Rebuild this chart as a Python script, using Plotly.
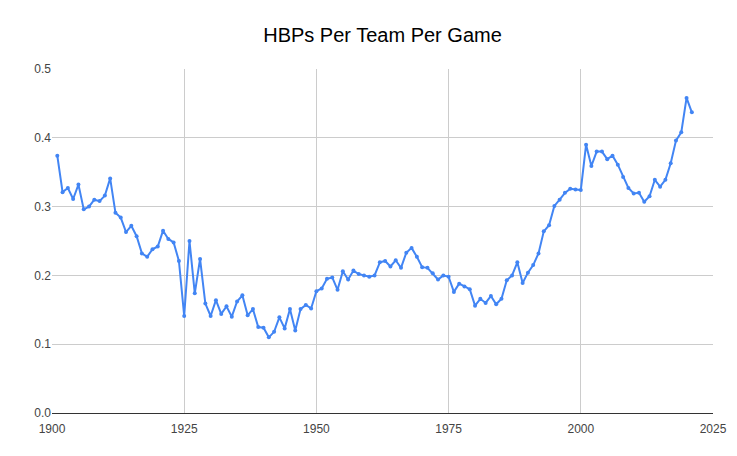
import plotly.graph_objects as go

years = list(range(1901, 2022))
hbp = [
    0.374, 0.321, 0.327, 0.311, 0.332, 0.296, 0.300, 0.310, 0.308, 0.316,  # 1901-1910
    0.341, 0.291, 0.284, 0.263, 0.272, 0.257, 0.232, 0.227, 0.238, 0.242,  # 1911-1920
    0.265, 0.253, 0.248, 0.221, 0.141, 0.250, 0.174, 0.224, 0.159, 0.141,  # 1921-1930
    0.164, 0.144, 0.155, 0.140, 0.162, 0.171, 0.142, 0.151, 0.125, 0.124,  # 1931-1940
    0.110, 0.118, 0.139, 0.123, 0.151, 0.120, 0.151, 0.157, 0.152, 0.177,  # 1941-1950
    0.181, 0.195, 0.197, 0.179, 0.206, 0.194, 0.207, 0.202, 0.200, 0.198,  # 1951-1960
    0.200, 0.219, 0.221, 0.213, 0.222, 0.211, 0.233, 0.240, 0.227, 0.212,  # 1961-1970
    0.211, 0.203, 0.194, 0.200, 0.198, 0.176, 0.188, 0.184, 0.180, 0.156,  # 1971-1980
    0.166, 0.160, 0.170, 0.158, 0.166, 0.193, 0.200, 0.219, 0.189, 0.204,  # 1981-1990
    0.215, 0.232, 0.264, 0.273, 0.301, 0.310, 0.320, 0.326, 0.325, 0.324,  # 1991-2000
    0.390, 0.359, 0.380, 0.380, 0.369, 0.374, 0.361, 0.343, 0.327, 0.319,  # 2001-2010
    0.320, 0.307, 0.315, 0.339, 0.329, 0.339, 0.363, 0.396, 0.408, 0.458,  # 2011-2020
    0.437,                                                                  # 2021
]

x_ticks = [1900, 1925, 1950, 1975, 2000, 2025]
y_ticks = [0.0, 0.1, 0.2, 0.3, 0.4, 0.5]

fig = go.Figure()
fig.add_trace(go.Scatter(
    x=years, y=hbp, mode="lines+markers",
    line=dict(color="#4285F4", width=2),
    marker=dict(color="#4285F4", size=4),
    hoverinfo="x+y", showlegend=False,
))

fig.update_layout(
    width=737, height=456,
    margin=dict(l=44, r=32, t=61, b=51, autoexpand=False),
    paper_bgcolor="white", plot_bgcolor="white",
    font=dict(family="Liberation Sans, Arial, sans-serif", color="#444444", size=12),
    title=dict(text="HBPs Per Team Per Game", x=0.5, xanchor="center",
               xref="paper", y=0.941, yanchor="middle",
               font=dict(size=20, color="#000000", family="Liberation Sans, Arial, sans-serif")),
    xaxis=dict(range=[1900, 2025], tickvals=x_ticks, ticktext=[str(t) for t in x_ticks],
               showgrid=True, gridcolor="#cccccc", gridwidth=1, zeroline=False,
               showline=True, linecolor="#333333", linewidth=1,
               ticks="", ticklabelstandoff=5, automargin=False,
               tickfont=dict(size=12, color="#444444")),
    yaxis=dict(range=[0, 0.5], tickvals=y_ticks, ticktext=[f"{t:.1f}" for t in y_ticks],
               showgrid=True, gridcolor="#cccccc", gridwidth=1, zeroline=False,
               showline=False, ticks="", automargin=False,
               tickfont=dict(size=12, color="#444444")),
)

fig.write_html("out.html")
